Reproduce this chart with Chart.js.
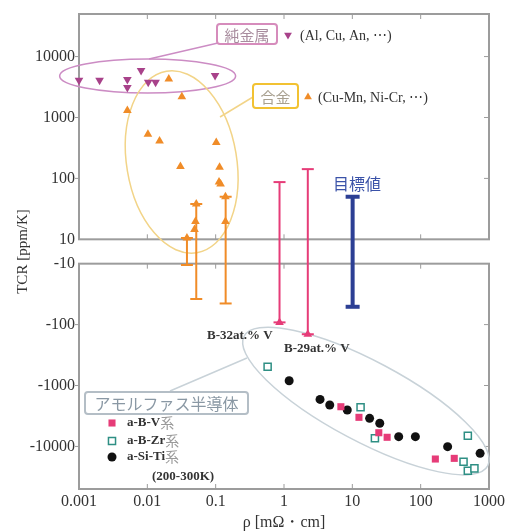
<!DOCTYPE html>
<html>
<head>
<meta charset="utf-8">
<script src="https://cdn.jsdelivr.net/npm/chart.js@4.4.1/dist/chart.umd.min.js"></script>
<style>
  html, body { margin: 0; padding: 0; background: #fff; }
  #wrap { width: 508px; height: 532px; position: relative; }
</style>
</head>
<body>
<div id="wrap"><canvas id="tcrChart"></canvas></div>
<script>
// Pure metals (Al, Cu, Au, ...)
const metalRho = [0.001, 0.002, 0.0051, 0.0051, 0.0081, 0.0103, 0.0132, 0.098];
const metalTcr = [4100, 4100, 4200, 3100, 5900, 3800, 3800, 4900];

// Alloys (Cu-Mn, Ni-Cr, ...)
const alloyRho = [0.0206, 0.032, 0.0051, 0.0102, 0.0151, 0.0305, 0.102, 0.114, 0.112, 0.118, 0.139, 0.0506, 0.049, 0.139, 0.038, 0.052];
const alloyTcr = [4300, 2200, 1300, 530, 410, 157, 390, 152, 87, 81, 50, 19.6, 14.5, 19.6, 10.5, 38];

// Alloy TCR ranges
const alloyBarRho = [0.038, 0.052, 0.14];
const alloyBarTop = [10.5, 38, 50];
const alloyBarBottom = [-10.5, -38, -45];

// B-V films (B-32at.% V, B-29at.% V)
const bvBarRho = [0.86, 2.23];
const bvBarTop = [87, 142];
const bvBarBottom = [-92, -144];

// target
const targetRho = [10.1];
const targetTop = [50];
const targetBottom = [-51];

// amorphous semiconductors
const bvRho = [6.8, 12.5, 24.4, 32.3, 164, 310];
const bvTcr = [-2230, -3330, -5960, -7080, -16100, -15700];

const bzrRho = [0.576, 13.2, 21.4, 490, 424, 490, 612];
const bzrTcr = [-491, -2280, -7360, -6670, -17800, -25100, -22900];

const sitiRho = [1.19, 3.37, 4.67, 8.43, 17.9, 25.2, 47.7, 83.7, 248, 741];
const sitiTcr = [-834, -1690, -2090, -2520, -3460, -4170, -6910, -6910, -10100, -13000];

// axes
const xTickValues = [0.001, 0.01, 0.1, 1, 10, 100, 1000];
const xTickLabels = ['0.001', '0.01', '0.1', '1', '10', '100', '1000'];
const yTickValues = [10000, 1000, 100, 10, -10, -100, -1000, -10000];
const yTickLabels = ['10000', '1000', '100', '10', '-10', '-100', '-1000', '-10000'];

// two log panels (+ and -) with a gap between them
const GAP = 0.2;
const tr = v => Math.sign(v) * (Math.log10(Math.abs(v)) - 1 + GAP);

const serif = "'Liberation Serif', 'DejaVu Serif', serif";
const cjk = "'Noto Sans CJK JP', sans-serif";

const frameColor = '#9c9c9c';
const metalColor = '#a8428a';
const alloyColor = '#f08c28';
const pinkColor = '#e63c78';
const blueColor = '#2c3f94';
const tealColor = '#2e8f84';

const pts = (xs, ys) => xs.map((v, i) => ({ x: v, y: tr(ys[i]) }));

function errorBars(xs, tops, bottoms, color, width, cap) {
    return xs.map((v, i) => ({
        type: 'line',
        data: [{ x: v, y: tr(tops[i]) }, { x: v, y: tr(bottoms[i]) }],
        showLine: true,
        borderColor: color,
        borderWidth: width,
        pointStyle: 'line',
        pointRadius: cap,
        pointBorderColor: color,
        pointBorderWidth: width,
        pointBackgroundColor: color
    }));
}

const datasets = [
    ...errorBars(alloyBarRho, alloyBarTop, alloyBarBottom, alloyColor, 2, 6),
    ...errorBars(bvBarRho, bvBarTop, bvBarBottom, pinkColor, 2, 6),
    ...errorBars(targetRho, targetTop, targetBottom, blueColor, 4, 7),
    {
        data: pts(metalRho, metalTcr),
        pointStyle: 'triangle', rotation: 180, pointRadius: 5, clip: false,
        backgroundColor: metalColor, borderColor: metalColor, borderWidth: 0
    },
    {
        data: pts(alloyRho, alloyTcr),
        pointStyle: 'triangle', pointRadius: 5, clip: false,
        backgroundColor: alloyColor, borderColor: alloyColor, borderWidth: 0
    },
    {
        data: pts(bvBarRho, bvBarBottom),
        pointStyle: 'triangle', pointRadius: 5,
        backgroundColor: pinkColor, borderColor: pinkColor, borderWidth: 0
    },
    {
        data: pts(bvRho, bvTcr),
        pointStyle: 'rect', pointRadius: 5,
        backgroundColor: pinkColor, borderColor: pinkColor, borderWidth: 0
    },
    {
        data: pts(bzrRho, bzrTcr),
        pointStyle: 'rect', pointRadius: 5,
        backgroundColor: '#fff', borderColor: tealColor, borderWidth: 1.5
    },
    {
        data: pts(sitiRho, sitiTcr),
        pointStyle: 'circle', pointRadius: 4.5,
        backgroundColor: '#111', borderColor: '#111', borderWidth: 0
    }
];

function ellipse(ctx, cx, cy, rx, ry, rot, color) {
    ctx.beginPath();
    ctx.ellipse(cx, cy, rx, ry, rot, 0, Math.PI * 2);
    ctx.strokeStyle = color;
    ctx.lineWidth = 1.5;
    ctx.stroke();
}

function line(ctx, x1, y1, x2, y2, color) {
    ctx.beginPath();
    ctx.moveTo(x1, y1);
    ctx.lineTo(x2, y2);
    ctx.strokeStyle = color;
    ctx.lineWidth = 1.5;
    ctx.stroke();
}

function box(ctx, x, y, w, h, border, label, textColor, font) {
    ctx.beginPath();
    ctx.roundRect(x, y, w, h, 3);
    ctx.fillStyle = '#fff';
    ctx.fill();
    ctx.strokeStyle = border;
    ctx.lineWidth = 2;
    ctx.stroke();
    ctx.fillStyle = textColor;
    ctx.font = font;
    ctx.textAlign = 'center';
    ctx.textBaseline = 'middle';
    ctx.fillText(label, x + w / 2, y + h / 2 + 1);
}

function marker(ctx, style, x, y, r, fill, stroke, rotation, bw) {
    ctx.fillStyle = fill;
    ctx.strokeStyle = stroke;
    ctx.lineWidth = bw || 1;
    Chart.helpers.drawPoint(ctx, { pointStyle: style, radius: r, rotation: rotation || 0, borderWidth: bw || 0 }, x, y);
}

const framePlugin = {
    id: 'frame',
    beforeDatasetsDraw(chart) {
        const { ctx, chartArea: a, scales: { x, y } } = chart;
        const yTop = y.getPixelForValue(tr(10));
        const yBot = y.getPixelForValue(tr(-10));
        ctx.save();
        ctx.strokeStyle = frameColor;
        ctx.lineWidth = 2;
        ctx.strokeRect(a.left, a.top, a.right - a.left, yTop - a.top);
        ctx.strokeRect(a.left, yBot, a.right - a.left, a.bottom - yBot);

        ctx.lineWidth = 1;
        ctx.beginPath();
        xTickValues.slice(1, -1).forEach(v => {
            const px = x.getPixelForValue(v);
            [a.top, yBot].forEach(t => { ctx.moveTo(px, t); ctx.lineTo(px, t + 5); });
            [yTop, a.bottom].forEach(b => { ctx.moveTo(px, b); ctx.lineTo(px, b - 5); });
        });
        yTickValues.filter(v => Math.abs(v) > 10).forEach(v => {
            const py = y.getPixelForValue(tr(v));
            ctx.moveTo(a.left - 4, py); ctx.lineTo(a.left, py);
            ctx.moveTo(a.right, py); ctx.lineTo(a.right - 5, py);
        });
        ctx.stroke();

        // group outlines
        const P = (xv, yv) => [x.getPixelForValue(xv), y.getPixelForValue(tr(yv))];
        let c = P(0.0101, 4800);
        ellipse(ctx, c[0], c[1], 88, 17, 0, '#cc8cc4');
        c = P(0.0318, 186);
        ellipse(ctx, c[0], c[1], 55, 92, -0.166, '#f2d488');
        c = P(15.8, -1800);
        ellipse(ctx, c[0], c[1], 138, 40, 0.489, '#c8d2d8');
        ctx.restore();
    },
    afterDatasetsDraw(chart) {
        const { ctx } = chart;
        ctx.save();

        // pure metals
        line(ctx, 218, 43, 149, 59, '#cc8cc4');
        box(ctx, 217, 24, 60, 20, '#d68cbc', '純金属', '#a88c9e', '15px ' + cjk);
        marker(ctx, 'triangle', 288, 35, 4.5, metalColor, metalColor, 180);
        ctx.fillStyle = '#333';
        ctx.font = '14px ' + serif;
        ctx.textAlign = 'left';
        ctx.textBaseline = 'middle';
        ctx.fillText('(Al, Cu, An, \u22ef)', 300, 36);

        // alloys
        line(ctx, 253, 97, 220, 117, '#f2d488');
        box(ctx, 253, 84, 45, 24, '#f2c232', '合金', '#a8a090', '15px ' + cjk);
        marker(ctx, 'triangle', 308, 97, 4.5, alloyColor, alloyColor, 0);
        ctx.fillStyle = '#333';
        ctx.font = '14px ' + serif;
        ctx.textAlign = 'left';
        ctx.textBaseline = 'middle';
        ctx.fillText('(Cu-Mn, Ni-Cr, \u22ef)', 318, 98);

        // target
        ctx.fillStyle = '#3a52a8';
        ctx.font = '16px ' + cjk;
        ctx.textAlign = 'center';
        ctx.fillText('目標値', 357, 184);

        // B-V film labels
        ctx.fillStyle = '#333';
        ctx.font = 'bold 13px ' + serif;
        ctx.textAlign = 'left';
        ctx.fillText('B-32at.% V', 207, 336);
        ctx.fillText('B-29at.% V', 284, 349);

        // amorphous semiconductors
        line(ctx, 170, 391, 247, 358, '#c8d2d8');
        box(ctx, 85, 392, 163, 22, '#b4bec6', 'アモルファス半導体', '#8a98a4', '16px ' + cjk);

        const legendRows = [
            ['a-B-V', 423, () => marker(ctx, 'rect', 112, 423, 5, pinkColor, pinkColor, 0)],
            ['a-B-Zr', 441, () => marker(ctx, 'rect', 112, 441, 5, '#fff', tealColor, 0, 1.5)],
            ['a-Si-Ti', 457, () => marker(ctx, 'circle', 112, 457, 4.5, '#111', '#111', 0)]
        ];
        legendRows.forEach(([name, yy, draw]) => {
            draw();
            ctx.font = 'bold 13px ' + serif;
            ctx.fillStyle = '#333';
            ctx.textAlign = 'left';
            ctx.textBaseline = 'middle';
            ctx.fillText(name, 127, yy);
            const w = ctx.measureText(name).width;
            ctx.font = '14px ' + cjk;
            ctx.fillStyle = '#9a9a9a';
            ctx.fillText('系', 127 + w, yy);
        });
        ctx.font = 'bold 13px ' + serif;
        ctx.fillStyle = '#333';
        ctx.fillText('(200-300K)', 152, 477);
        ctx.restore();
    }
};

new Chart(document.getElementById('tcrChart'), {
    type: 'scatter',
    data: { datasets },
    options: {
        responsive: true,
        maintainAspectRatio: false,
        animation: false,
        layout: { padding: { top: 14, right: 17, left: 0, bottom: 0 } },
        plugins: {
            legend: { display: false },
            tooltip: { enabled: false }
        },
        scales: {
            x: {
                type: 'logarithmic',
                min: 0.001,
                max: 1000,
                afterBuildTicks: s => { s.ticks = xTickValues.map(v => ({ value: v })); },
                afterFit: s => { s.height = 43; },
                grid: { display: false, drawTicks: false },
                border: { display: false },
                ticks: {
                    autoSkip: false,
                    maxRotation: 0,
                    padding: 3,
                    color: '#333',
                    font: { family: serif, size: 16 },
                    callback: (v, i) => xTickLabels[i]
                },
                title: {
                    display: true,
                    text: 'ρ [mΩ・cm]',
                    color: '#333',
                    font: { family: serif, size: 16 },
                    padding: { top: 0, bottom: 0 }
                }
            },
            y: {
                type: 'linear',
                min: tr(-50000),
                max: tr(50000),
                afterBuildTicks: s => { s.ticks = yTickValues.map(v => ({ value: tr(v) })); },
                afterFit: s => { s.width = 79; },
                grid: { display: false, drawTicks: false },
                border: { display: false },
                ticks: {
                    autoSkip: false,
                    padding: 4,
                    color: '#333',
                    font: { family: serif, size: 16 },
                    callback: (v, i) => yTickLabels[i]
                },
                title: {
                    display: true,
                    text: 'TCR [ppm/K]',
                    color: '#333',
                    font: { family: serif, size: 15 },
                    padding: { top: 14, bottom: 0 }
                }
            }
        }
    },
    plugins: [framePlugin]
});
</script>
</body>
</html>
